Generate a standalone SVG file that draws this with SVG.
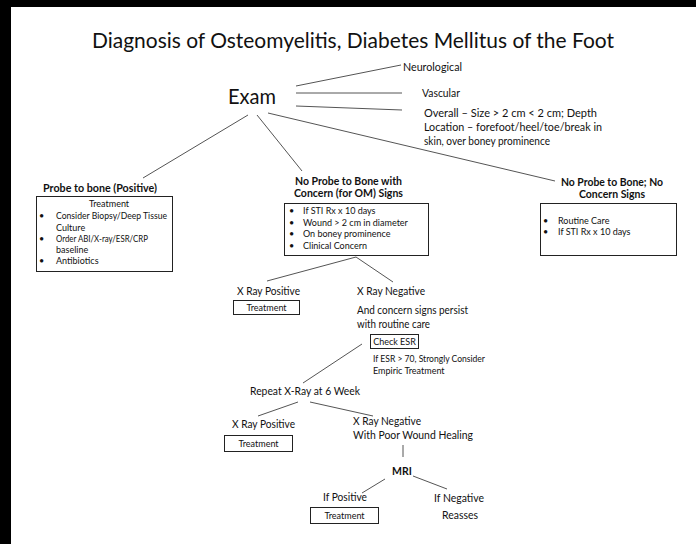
<svg xmlns="http://www.w3.org/2000/svg" width="696" height="544" viewBox="0 0 696 544">
<style>
text{font-family:Lato,"Open Sans","Liberation Sans",sans-serif;fill:#111}
.t{font-size:21px}
.ex{font-size:21px}
.s{font-size:10.5px}
.h{font-size:10.5px;font-weight:bold}
.b{font-size:9px}
.m{font-size:11px}
.bx{fill:#fff;stroke:#222;stroke-width:1}
.c line,.c polyline{stroke:#555;stroke-width:1;fill:none}
</style>
<rect x="0" y="0" width="696" height="544" fill="#fff"/>
<rect x="0" y="0" width="696" height="7" fill="#000"/>
<rect x="0" y="0" width="11" height="544" fill="#000"/>

<g id="title"><text class="t" x="92" y="48" textLength="522" lengthAdjust="spacingAndGlyphs">Diagnosis of Osteomyelitis, Diabetes Mellitus of the Foot</text></g>

<g class="c" id="connectors">
<line x1="296" y1="86" x2="401" y2="65"/>
<line x1="296" y1="93" x2="402" y2="93"/>
<line x1="296" y1="106" x2="402" y2="110"/>
<line x1="248" y1="115" x2="143" y2="178"/>
<line x1="257" y1="115" x2="302" y2="171"/>
<line x1="268" y1="113" x2="555" y2="181"/>
<line x1="356" y1="257" x2="267" y2="281"/>
<line x1="356" y1="257" x2="393" y2="282"/>
<line x1="362" y1="344" x2="303" y2="383"/>
<line x1="298" y1="402" x2="258" y2="416"/>
<line x1="310" y1="402" x2="373" y2="416"/>
<line x1="403" y1="445" x2="403" y2="457"/>
<line x1="385" y1="479" x2="362" y2="493"/>
<line x1="413" y1="476" x2="447" y2="489"/>
</g>

<g id="exam"><text class="ex" x="228" y="104" textLength="48" lengthAdjust="spacingAndGlyphs">Exam</text></g>
<g id="neuro"><text class="s" x="403" y="71" textLength="59" lengthAdjust="spacingAndGlyphs">Neurological</text></g>
<g id="vascular"><text class="s" x="422" y="97" textLength="38" lengthAdjust="spacingAndGlyphs">Vascular</text></g>
<g id="overall">
<text class="s" x="424" y="117" textLength="173" lengthAdjust="spacingAndGlyphs">Overall – Size &gt; 2 cm &lt; 2 cm; Depth</text>
<text class="s" x="424" y="131" textLength="178" lengthAdjust="spacingAndGlyphs">Location – forefoot/heel/toe/break in</text>
<text class="s" x="424" y="145" textLength="126" lengthAdjust="spacingAndGlyphs">skin, over boney prominence</text>
</g>

<g id="probe-positive">
<text class="h" x="43" y="192" textLength="114" lengthAdjust="spacingAndGlyphs">Probe to bone (Positive)</text>
<rect class="bx" x="36.5" y="196.5" width="136" height="75"/>
<text class="b" x="109" y="207" text-anchor="middle">Treatment</text>
<text class="b" x="39" y="219">•</text><text class="b" x="56" y="219" textLength="111" lengthAdjust="spacingAndGlyphs">Consider Biopsy/Deep Tissue</text>
<text class="b" x="56" y="231">Culture</text>
<text class="b" x="39" y="242">•</text><text class="b" x="56" y="242" textLength="92" lengthAdjust="spacingAndGlyphs">Order ABI/X-ray/ESR/CRP</text>
<text class="b" x="56" y="253">baseline</text>
<text class="b" x="39" y="264">•</text><text class="b" x="56" y="264">Antibiotics</text>
</g>

<g id="no-probe-concern">
<text class="h" x="295" y="185" textLength="107" lengthAdjust="spacingAndGlyphs">No Probe to Bone with</text>
<text class="h" x="294" y="197" textLength="109" lengthAdjust="spacingAndGlyphs">Concern (for OM) Signs</text>
<rect class="bx" x="284.5" y="203.5" width="144" height="52"/>
<text class="b" x="289" y="214">•</text><text class="b" x="303" y="214">If STI Rx x 10 days</text>
<text class="b" x="289" y="225.5">•</text><text class="b" x="303" y="225.5">Wound &gt; 2 cm in diameter</text>
<text class="b" x="289" y="237">•</text><text class="b" x="303" y="237">On boney prominence</text>
<text class="b" x="289" y="248.5">•</text><text class="b" x="303" y="248.5">Clinical Concern</text>
</g>

<g id="no-probe-no-concern">
<text class="h" x="612" y="186" text-anchor="middle" textLength="102" lengthAdjust="spacingAndGlyphs">No Probe to Bone; No</text>
<text class="h" x="612" y="198" text-anchor="middle">Concern Signs</text>
<rect class="bx" x="540.5" y="203.5" width="136" height="52"/>
<text class="b" x="543" y="224">•</text><text class="b" x="558" y="224">Routine Care</text>
<text class="b" x="543" y="235">•</text><text class="b" x="558" y="235">If STI Rx x 10 days</text>
</g>

<g id="xray-positive-1">
<text class="m" x="237" y="295" textLength="63" lengthAdjust="spacingAndGlyphs">X Ray Positive</text>
<rect class="bx" x="233.5" y="300.5" width="66" height="14"/>
<text class="b" x="266.5" y="311" text-anchor="middle">Treatment</text>
</g>

<g id="xray-negative-1">
<text class="m" x="357" y="295" textLength="68" lengthAdjust="spacingAndGlyphs">X Ray Negative</text>
<text class="m" x="357" y="314" textLength="111" lengthAdjust="spacingAndGlyphs">And concern signs persist</text>
<text class="m" x="357" y="328" textLength="73" lengthAdjust="spacingAndGlyphs">with routine care</text>
</g>

<g id="check-esr">
<rect class="bx" x="370.5" y="334.5" width="48" height="14"/>
<text class="b" x="394.5" y="345" text-anchor="middle">Check ESR</text>
<text class="b" x="373" y="362" textLength="112" lengthAdjust="spacingAndGlyphs">If ESR &gt; 70, Strongly Consider</text>
<text class="b" x="373" y="374">Empiric Treatment</text>
</g>

<g id="repeat-xray"><text class="m" x="250" y="395" textLength="110" lengthAdjust="spacingAndGlyphs">Repeat X-Ray at 6 Week</text></g>

<g id="xray-positive-2">
<text class="m" x="232" y="428" textLength="63" lengthAdjust="spacingAndGlyphs">X Ray Positive</text>
<rect class="bx" x="224.5" y="435.5" width="68" height="16"/>
<text class="b" x="258.5" y="447" text-anchor="middle">Treatment</text>
</g>

<g id="xray-negative-2">
<text class="m" x="353" y="425" textLength="68" lengthAdjust="spacingAndGlyphs">X Ray Negative</text>
<text class="m" x="353" y="439" textLength="120" lengthAdjust="spacingAndGlyphs">With Poor Wound Healing</text>
</g>

<g id="mri"><text class="h" x="392" y="475">MRI</text></g>

<g id="if-positive">
<text class="m" x="323" y="501" textLength="44" lengthAdjust="spacingAndGlyphs">If Positive</text>
<rect class="bx" x="310.5" y="507.5" width="68" height="16"/>
<text class="b" x="344.5" y="519" text-anchor="middle">Treatment</text>
</g>

<g id="if-negative">
<text class="m" x="434" y="502" textLength="50" lengthAdjust="spacingAndGlyphs">If Negative</text>
<text class="m" x="442" y="519" textLength="36" lengthAdjust="spacingAndGlyphs">Reasses</text>
</g>
</svg>
